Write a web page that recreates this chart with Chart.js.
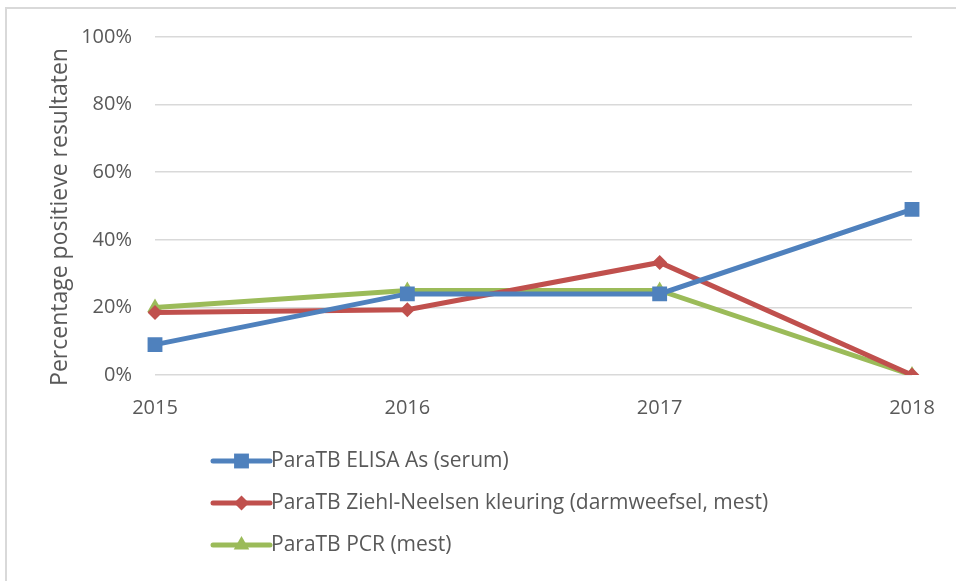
<!DOCTYPE html>
<html>
<head>
<meta charset="utf-8">
<script src="https://cdn.jsdelivr.net/npm/chart.js@4.4.1/dist/chart.umd.min.js"></script>
<style>
	html, body { margin: 0; padding: 0; background: #fff; }
	#wrap { position: relative; width: 956px; height: 581px; overflow: hidden; }
	#frame { position: absolute; left: 5px; top: 7px; width: 1000px; height: 700px; border-top: 2px solid #d9d9d9; border-left: 2px solid #d9d9d9; }
	#chart { position: absolute; left: 0; top: 0; }
</style>
</head>
<body>
<div id="wrap">
	<div id="frame"></div>
	<canvas id="chart" width="956" height="581"></canvas>
</div>
<script>
// years on the x axis
const years = ["2015", "2016", "2017", "2018"];

// percentage of positive results per test
const elisa = [9, 24, 24, 49];
const ziehl = [18.5, 19.3, 33.3, 0];
const pcr = [20, 25, 25, 0];

const seriesNames = [
	"ParaTB ELISA As (serum)",
	"ParaTB Ziehl-Neelsen kleuring (darmweefsel, mest)",
	"ParaTB PCR (mest)"
];
const yTitle = "Percentage positieve resultaten";

const FONT = "'Open Sans'";
const TEXT = "#595959";

function lineSet(name, values, color, style, radius) {
	return {
		label: name,
		data: values,
		borderColor: color,
		backgroundColor: color,
		borderWidth: 5,
		tension: 0,
		pointStyle: style,
		pointRadius: radius,
		pointHoverRadius: radius,
		pointBorderWidth: 0,
		pointBackgroundColor: color
	};
}

// legend stacked one entry per row under the plot, plus the rotated y title
const stackedLegend = {
	id: "stackedLegend",
	afterDraw(chart) {
		const ctx = chart.ctx;
		const x0 = 213, x1 = 270, rowY = [461, 503, 545];
		ctx.save();
		chart.data.datasets.forEach((ds, i) => {
			const y = rowY[i];
			ctx.strokeStyle = ds.borderColor;
			ctx.lineWidth = ds.borderWidth;
			ctx.lineCap = "round";
			ctx.beginPath();
			ctx.moveTo(x0, y);
			ctx.lineTo(x1, y);
			ctx.stroke();
			ctx.fillStyle = ds.backgroundColor;
			Chart.helpers.drawPoint(ctx, {
				pointStyle: ds.pointStyle,
				radius: ds.pointRadius,
				borderWidth: 0,
				rotation: 0
			}, (x0 + x1) / 2, y);
			ctx.fillStyle = TEXT;
			ctx.font = "21px " + FONT;
			ctx.textAlign = "left";
			ctx.textBaseline = "middle";
			ctx.fillText(ds.label, x1 + 1, y);
		});

		ctx.translate(60, 217);
		ctx.rotate(-Math.PI / 2);
		ctx.font = "23px " + FONT;
		ctx.textAlign = "center";
		ctx.fillText(yTitle, 0, 0);
		ctx.restore();
	}
};

function chartLines() {
	let data = {
		labels: years,
		datasets: [
			lineSet(seriesNames[0], elisa, "#4f81bd", "rect", 10.5),
			lineSet(seriesNames[1], ziehl, "#c0504d", "rectRot", 7.5),
			lineSet(seriesNames[2], pcr, "#9bbb59", "triangle", 9)
		]
	};

	let args = {
		type: "line",
		data: data,
		plugins: [stackedLegend],
		options: {
			responsive: false,
			animation: false,
			layout: { padding: { left: 0, right: 44, top: 37, bottom: 156 } },
			plugins: {
				legend: { display: false },
				tooltip: { enabled: false }
			},
			scales: {
				x: {
					offset: false,
					grid: { display: false },
					border: { display: false },
					ticks: { color: TEXT, font: { family: FONT, size: 20 }, padding: 13, maxRotation: 0 },
					afterFit: s => { s.height = 50; }
				},
				y: {
					min: 0,
					max: 100,
					grid: { color: "#d9d9d9", lineWidth: 1.5, drawTicks: false },
					border: { display: false },
					ticks: {
						stepSize: 20,
						color: TEXT,
						padding: 23,
						font: { family: FONT, size: 20 },
						callback: v => v + "%"
					},
					afterFit: s => { s.width = 155; }
				}
			}
		}
	};
	new Chart(document.getElementById("chart"), args);
}

document.addEventListener("DOMContentLoaded", chartLines);
</script>
</body>
</html>
